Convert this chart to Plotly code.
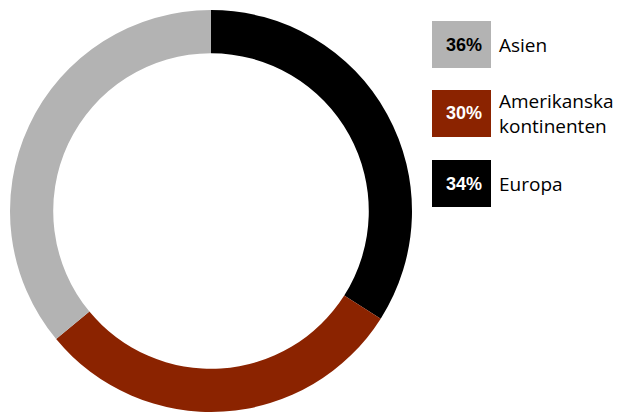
import plotly.graph_objects as go

W, H = 619, 412

# Share of total by region
regions = ["Europa", "Amerikanska kontinenten", "Asien"]
shares = [34, 30, 36]
colors = ["#000000", "#8b2300", "#b3b3b3"]

# Legend entries, top to bottom
legend_regions = ["Asien", "Amerikanska kontinenten", "Europa"]
legend_labels = ["Asien", "Amerikanska<br>kontinenten", "Europa"]
legend_text_colors = ["#000000", "#ffffff", "#ffffff"]

share_of = dict(zip(regions, shares))
color_of = dict(zip(regions, colors))

fig = go.Figure(
    go.Pie(
        labels=regions,
        values=shares,
        hole=0.785,
        sort=False,
        direction="clockwise",
        rotation=0,
        marker=dict(colors=colors, line=dict(width=0)),
        textinfo="none",
        hoverinfo="label+percent",
        showlegend=False,
        domain=dict(x=[10 / W, 412 / W], y=[0, 402 / H]),
    )
)


def px_x(x):
    return x / W


def px_y(y):
    return 1 - y / H


shapes = []
annotations = []
box_left, box_right = 432, 491
box_tops = [21, 90, 160]
box_h = 47
for name, label, tcol, top in zip(legend_regions, legend_labels, legend_text_colors, box_tops):
    shapes.append(
        dict(
            type="rect", xref="paper", yref="paper",
            x0=px_x(box_left), x1=px_x(box_right),
            y0=px_y(top + box_h), y1=px_y(top),
            fillcolor=color_of[name], line=dict(width=0), layer="above",
        )
    )
    mid = top + box_h / 2
    annotations.append(
        dict(
            xref="paper", yref="paper",
            x=px_x(484), y=px_y(mid), xanchor="right", yanchor="middle",
            text=f"<b>{share_of[name]}%</b>", showarrow=False,
            font=dict(family="Liberation Sans, Arial", size=18, color=tcol),
        )
    )
    annotations.append(
        dict(
            xref="paper", yref="paper",
            x=px_x(498), y=px_y(mid), xanchor="left", yanchor="middle",
            text=label, align="left", showarrow=False, borderpad=0,
            font=dict(family="Open Sans", size=19, color="#000000"),
        )
    )

fig.update_layout(
    width=W, height=H,
    margin=dict(l=0, r=0, t=0, b=0),
    paper_bgcolor="#ffffff",
    plot_bgcolor="#ffffff",
    shapes=shapes,
    annotations=annotations,
)

fig.write_html("out.html")
